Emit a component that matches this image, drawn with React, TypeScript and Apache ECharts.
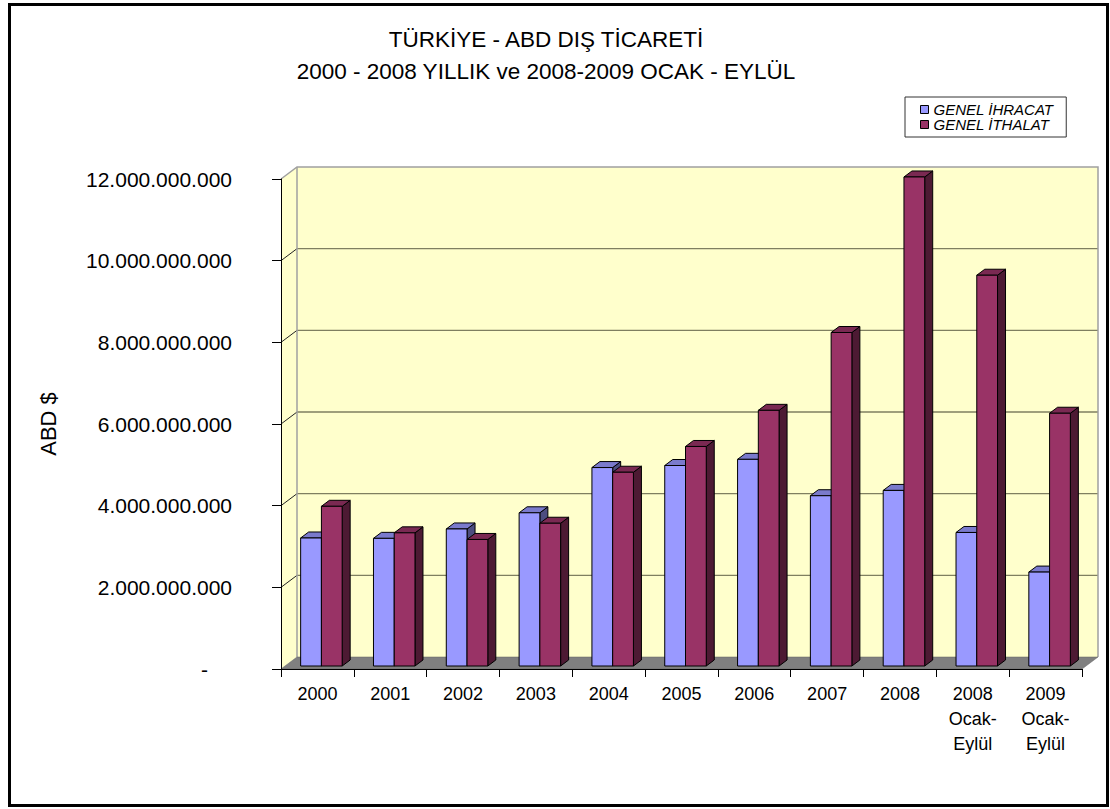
import React, { useEffect, useRef } from 'react';
import * as echarts from 'echarts';

// ---- data ----
const categories = [
  '2000', '2001', '2002', '2003', '2004', '2005', '2006', '2007', '2008',
  '2008\nOcak-\nEylül', '2009\nOcak-\nEylül',
];
const exportsUS = [3.135e9, 3.126e9, 3.356e9, 3.752e9, 4.86e9, 4.91e9, 5.061e9, 4.17e9, 4.3e9, 3.27e9, 2.3e9];
const importsUS = [3.911e9, 3.261e9, 3.099e9, 3.496e9, 4.745e9, 5.376e9, 6.261e9, 8.167e9, 11.976e9, 9.57e9, 6.19e9];
const yTicks = [0, 2e9, 4e9, 6e9, 8e9, 10e9, 12e9];
const seriesNames = ['GENEL İHRACAT', 'GENEL İTHALAT'];
const titleLines = ['TÜRKİYE - ABD DIŞ TİCARETİ', '2000 - 2008 YILLIK ve 2008-2009 OCAK - EYLÜL'];
const yAxisTitle = 'ABD $';

// ---- style ----
const FONT = '"Liberation Sans", Arial, sans-serif';
const WALL_DX = 16;
const WALL_DY = 12;
const BAR_DX = 8;
const BAR_DY = 6;
const SHIFT_X = 4;
const SHIFT_Y = 3;
const BAR_FRAC = 0.285;

const palettes = [
  { front: '#9999FF', top: '#7A7ACC', side: '#4D4D80' },
  { front: '#993366', top: '#7A2952', side: '#4D1A33' },
];

function fmt(v: number): string {
  return String(Math.round(v)).replace(/\B(?=(\d{3})+(?!\d))/g, '.');
}

function makeBarRender(si: number) {
  const pal = palettes[si];
  return (params: any, api: any) => {
    const ci = api.value(0);
    const v = api.value(1);
    const top = api.coord([ci, v]);
    const base = api.coord([ci, 0]);
    const band = api.size([1, 0])[0];
    const w = band * BAR_FRAC;
    const x0 = top[0] - w + si * w + SHIFT_X;
    const x1 = x0 + w;
    const yT = top[1] - SHIFT_Y;
    const yB = base[1] - SHIFT_Y;
    const stroke = { stroke: '#000', lineWidth: 1 };
    return {
      type: 'group',
      children: [
        {
          type: 'polygon',
          shape: { points: [[x1, yT], [x1 + BAR_DX, yT - BAR_DY], [x1 + BAR_DX, yB - BAR_DY], [x1, yB]] },
          style: { fill: pal.side, ...stroke },
        },
        {
          type: 'polygon',
          shape: { points: [[x0, yT], [x0 + BAR_DX, yT - BAR_DY], [x1 + BAR_DX, yT - BAR_DY], [x1, yT]] },
          style: { fill: pal.top, ...stroke },
        },
        {
          type: 'rect',
          shape: { x: x0, y: yT, width: w, height: yB - yT },
          style: { fill: pal.front, ...stroke },
        },
      ],
    };
  };
}

function wallsRender(params: any, api: any) {
  const cs = params.coordSys;
  const L = cs.x;
  const R = cs.x + cs.width;
  const T = cs.y;
  const B = cs.y + cs.height;
  const children: any[] = [];
  children.push({
    type: 'rect',
    shape: { x: L + WALL_DX, y: T - WALL_DY, width: cs.width, height: cs.height },
    style: { fill: '#FFFFCC' },
  });
  children.push({
    type: 'polygon',
    shape: { points: [[L, T], [L + WALL_DX, T - WALL_DY], [L + WALL_DX, B - WALL_DY], [L, B]] },
    style: { fill: '#FFFFCC' },
  });
  yTicks.forEach((v) => {
    if (v === 0 || v === yTicks[yTicks.length - 1]) return;
    const y = api.coord([0, v])[1];
    children.push({
      type: 'line',
      shape: { x1: L + WALL_DX, y1: y - WALL_DY, x2: R + WALL_DX, y2: y - WALL_DY },
      style: { stroke: '#7F7F60', lineWidth: 1.3 },
    });
    children.push({
      type: 'line',
      shape: { x1: L, y1: y, x2: L + WALL_DX, y2: y - WALL_DY },
      style: { stroke: '#222', lineWidth: 1 },
    });
  });
  children.push({
    type: 'polyline',
    shape: {
      points: [[L, T], [L + WALL_DX, T - WALL_DY], [R + WALL_DX, T - WALL_DY], [R + WALL_DX, B - WALL_DY]],
    },
    style: { stroke: '#A0A0A0', lineWidth: 1.5, fill: 'none' },
  });
  children.push({
    type: 'line',
    shape: { x1: L + WALL_DX, y1: T - WALL_DY, x2: L + WALL_DX, y2: B - WALL_DY },
    style: { stroke: '#A0A0A0', lineWidth: 1.5 },
  });
  children.push({
    type: 'polygon',
    shape: { points: [[L, B], [L + WALL_DX, B - WALL_DY], [R + WALL_DX, B - WALL_DY], [R, B]] },
    style: { fill: '#808080', stroke: '#606060', lineWidth: 0.5 },
  });
  return { type: 'group', children };
}

export default function App() {
  const ref = useRef<HTMLDivElement>(null);
  useEffect(() => {
    if (!ref.current) return;
    const chart = echarts.init(ref.current, null, { renderer: 'svg' });
    const option: any = {
      animation: false,
      backgroundColor: '#FFFFFF',
      grid: { left: 281, top: 179, width: 801, height: 490 },
      legend: {
        orient: 'vertical',
        left: 905,
        top: 97,
        data: seriesNames,
        icon: 'rect',
        itemWidth: 8,
        itemHeight: 8,
        itemGap: 0,
        padding: [5, 13, 5, 15],
        backgroundColor: '#FFFFFF',
        borderColor: '#333',
        borderWidth: 1,
        itemStyle: { borderColor: '#000', borderWidth: 1 },
        textStyle: { fontFamily: FONT, fontSize: 15, fontStyle: 'italic', color: '#000', padding: [0, 0, 0, 0] },
      },
      xAxis: {
        type: 'category',
        data: categories,
        z: 10,
        axisLine: { show: true, lineStyle: { color: '#000', width: 1 } },
        axisTick: { show: true, interval: 0, length: 8, lineStyle: { color: '#000' } },
        axisLabel: { interval: 0, fontFamily: FONT, fontSize: 18, lineHeight: 25, color: '#000', margin: 12 },
        splitLine: { show: false },
      },
      yAxis: {
        type: 'value',
        min: 0,
        max: 12e9,
        interval: 2e9,
        z: 10,
        axisLine: { show: true, lineStyle: { color: '#000', width: 1 } },
        axisTick: { show: true, length: 9, lineStyle: { color: '#000' } },
        axisLabel: {
          fontFamily: FONT,
          fontSize: 21,
          color: '#000',
          margin: 49,
          formatter: (v: number) => (v === 0 ? '{z|-}' : fmt(v)),
          rich: { z: { fontFamily: FONT, fontSize: 21, color: '#000', padding: [0, 24, 0, 0] } },
        },
        splitLine: { show: false },
      },
      graphic: [
        {
          type: 'rect',
          shape: { x: 9.5, y: 4.5, width: 1098, height: 801 },
          style: { fill: 'none', stroke: '#000', lineWidth: 3 },
          z: 100,
        },
        {
          type: 'text',
          x: 546,
          y: 23,
          style: {
            text: titleLines.join('\n'),
            font: `22.5px ${FONT}`,
            fill: '#000',
            align: 'center',
            verticalAlign: 'top',
            lineHeight: 32,
          },
        },
        {
          type: 'text',
          x: 48,
          y: 424,
          rotation: Math.PI / 2,
          style: {
            text: yAxisTitle,
            font: `22px ${FONT}`,
            fill: '#000',
            align: 'center',
            verticalAlign: 'middle',
          },
        },
      ],
      series: [
        {
          type: 'custom',
          name: 'walls',
          z: 1,
          silent: true,
          renderItem: wallsRender,
          data: [[0, 0]],
          encode: { x: 0, y: 1 },
        },
        {
          type: 'custom',
          name: seriesNames[0],
          z: 2,
          itemStyle: { color: palettes[0].front },
          renderItem: makeBarRender(0),
          data: exportsUS.map((v, i) => [i, v]),
          encode: { x: 0, y: 1 },
        },
        {
          type: 'custom',
          name: seriesNames[1],
          z: 3,
          itemStyle: { color: palettes[1].front },
          renderItem: makeBarRender(1),
          data: importsUS.map((v, i) => [i, v]),
          encode: { x: 0, y: 1 },
        },
      ],
    };
    chart.setOption(option);
    return () => chart.dispose();
  }, []);
  return (
    <div
      ref={ref}
      style={{ position: 'fixed', left: 0, top: 0, width: 1110, height: 809 }}
    />
  );
}
